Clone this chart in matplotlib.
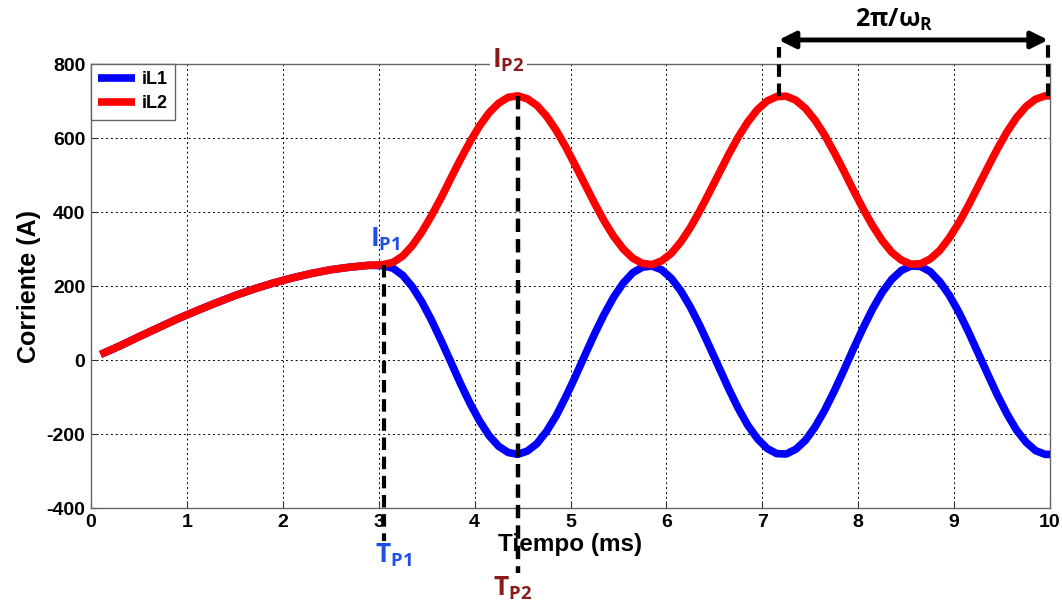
import matplotlib
matplotlib.use("Agg")
import matplotlib.pyplot as plt

# Charging interval (both inductor currents equal)
t_charge = [0.1, 0.3, 0.5, 0.7, 0.9, 1.1, 1.3, 1.5, 1.7, 1.9, 2.1, 2.3, 2.5, 2.7, 2.9]
i_charge = [15, 38, 63, 87, 111, 133, 154, 174, 192, 208, 222, 234, 244, 251, 256]

# Resonant interval
t_res = [3.05, 3.15, 3.25, 3.35, 3.45, 3.55, 3.65, 3.75, 3.85, 3.95,
         4.05, 4.15, 4.25, 4.35, 4.45, 4.55, 4.65, 4.75, 4.85, 4.95,
         5.05, 5.15, 5.25, 5.35, 5.45, 5.55, 5.65, 5.75, 5.85, 5.95,
         6.05, 6.15, 6.25, 6.35, 6.45, 6.55, 6.65, 6.75, 6.85, 6.95,
         7.05, 7.15, 7.25, 7.35, 7.45, 7.55, 7.65, 7.75, 7.85, 7.95,
         8.05, 8.15, 8.25, 8.35, 8.45, 8.55, 8.65, 8.75, 8.85, 8.95,
         9.05, 9.15, 9.25, 9.35, 9.45, 9.55, 9.65, 9.75, 9.85, 9.95, 10.0]
iL1_res = [255, 248, 229, 198, 157, 108, 53, -4, -62, -116,
           -164, -204, -233, -250, -255, -246, -226, -193, -151, -100,
           -45, 13, 70, 123, 170, 208, 236, 251, 254, 244,
           221, 187, 143, 92, 36, -21, -78, -131, -177, -213,
           -239, -253, -254, -241, -217, -181, -136, -84, -28, 30,
           86, 138, 183, 218, 242, 254, 253, 239, 212, 175,
           129, 76, 19, -38, -94, -145, -189, -222, -245, -255, -255]
iL2_res = [258, 264, 281, 309, 346, 390, 438, 490, 541, 589,
           632, 668, 694, 710, 714, 706, 688, 659, 621, 576,
           526, 475, 424, 376, 334, 300, 275, 261, 258, 268,
           288, 319, 358, 404, 454, 505, 556, 603, 644, 677,
           700, 712, 713, 702, 680, 648, 608, 561, 511, 459,
           409, 363, 323, 291, 270, 259, 260, 273, 296, 330,
           371, 418, 469, 520, 570, 616, 655, 685, 705, 714, 714]

t = t_charge + t_res
iL1 = i_charge + iL1_res
iL2 = i_charge + iL2_res

x_ticks = list(range(0, 11))
y_ticks = [-400, -200, 0, 200, 400, 600, 800]

# Key instants / peaks
t_p1, i_p1 = 3.05, 258
t_p2, i_p2 = 4.45, 714
t_a, t_b = 7.17, 10.0

plt.rcParams['font.family'] = ['Liberation Sans', 'DejaVu Sans']
plt.rcParams['font.weight'] = 'bold'
plt.rcParams['axes.unicode_minus'] = False
plt.rcParams['mathtext.fontset'] = 'custom'
plt.rcParams['mathtext.bf'] = 'Open Sans:bold'
plt.rcParams['mathtext.rm'] = 'Open Sans:bold'
plt.rcParams['mathtext.it'] = 'Open Sans:bold'

fig = plt.figure(figsize=(10.62, 6.01), dpi=100)
ax = fig.add_axes([0.0857, 0.1547, 0.903, 0.7388])

ax.plot(t, iL1, color='#0000ff', lw=5.5, label='iL1', solid_capstyle='butt', zorder=3)
ax.plot(t, iL2, color='#ff0000', lw=5.5, label='iL2', solid_capstyle='butt', zorder=4)

ax.set_xlim(0, 10)
ax.set_ylim(-400, 800)
ax.set_xticks(x_ticks)
ax.set_yticks(y_ticks)
ax.tick_params(direction='in', length=5, labelsize=14, color='#333333', pad=4)
for lbl in ax.get_xticklabels() + ax.get_yticklabels():
    lbl.set_fontweight('bold')
ax.grid(True, color='black', linestyle=(0, (2, 3)), linewidth=0.7)
for sp in ax.spines.values():
    sp.set_color('#666666')
    sp.set_linewidth(1.0)

ax.set_xlabel('Tiempo (ms)', fontsize=17.5, fontweight='bold', labelpad=2)
ax.set_ylabel('Corriente (A)', fontsize=18, fontweight='bold', labelpad=4)

leg = ax.legend(loc='upper left', borderaxespad=0, fancybox=False, framealpha=1,
                edgecolor='#666666', prop={'weight': 'bold', 'size': 13},
                handlelength=2.05, handletextpad=0.35, borderpad=0.4, labelspacing=0.4)
leg.get_frame().set_linewidth(1.0)
leg.set_zorder(6)

dash = (0, (3, 1.6))
ax.plot([t_p1, t_p1], [i_p1, -490], color='black', lw=3, ls=dash, clip_on=False, zorder=7)
ax.plot([t_p2, t_p2], [i_p2, -575], color='black', lw=3.2, ls=dash, clip_on=False, zorder=7)
ax.plot([t_a, t_a], [i_p2, 845], color='black', lw=3, ls=dash, clip_on=False, zorder=7)
ax.plot([t_b - 0.02, t_b - 0.02], [i_p2, 860], color='black', lw=3, ls=dash, clip_on=False, zorder=7)

ax.annotate('', xy=(t_a, 865), xytext=(t_b - 0.02, 865), xycoords='data',
            arrowprops=dict(arrowstyle='<|-|>', color='black', lw=3.5,
                            mutation_scale=25, shrinkA=0, shrinkB=0),
            annotation_clip=False)
ax.text(8.38, 918, r'$\mathbf{2π/ω_R}$', fontsize=18,
        ha='center', va='center', color='black', clip_on=False)

blue_lbl = '#1f4fe8'
dark_red = '#8b1a1a'
ax.text(3.07, 326, r'$\mathbf{I_{P1}}$', fontsize=19, color=blue_lbl,
        ha='center', va='center', zorder=8)
ax.text(4.35, 810, r'$\mathbf{I_{P2}}$', fontsize=19, color=dark_red,
        ha='center', va='center', zorder=8, clip_on=False,
        bbox=dict(facecolor='white', edgecolor='none', pad=1.5))
ax.text(3.15, -527, r'$\mathbf{T_{P1}}$', fontsize=19, color=blue_lbl,
        ha='center', va='center', clip_on=False)
ax.text(4.4, -617, r'$\mathbf{T_{P2}}$', fontsize=19, color=dark_red,
        ha='center', va='center', clip_on=False)

fig.savefig('out.png', dpi=100)
